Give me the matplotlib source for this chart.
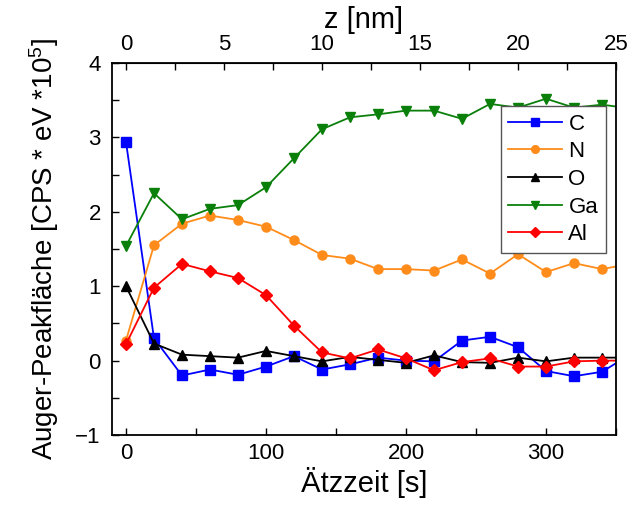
import numpy as np
import matplotlib
matplotlib.use("Agg")
from matplotlib import pyplot as plt
from matplotlib.ticker import MultipleLocator

plt.rcParams['font.family'] = ['Liberation Sans', 'DejaVu Sans']
plt.rcParams['mathtext.fontset'] = 'custom'
plt.rcParams['mathtext.rm'] = 'Liberation Sans'
plt.rcParams['mathtext.it'] = 'Liberation Sans'

# etch time [s]
t = [0, 20, 40, 60, 80, 100, 120, 140, 160, 180, 200, 220, 240, 260, 280, 300, 320, 340, 360]

C = [2.94, 0.30, -0.20, -0.12, -0.19, -0.08, 0.06, -0.12, -0.05, 0.04, 0.0, -0.01, 0.27, 0.32, 0.18, -0.14, -0.21, -0.15, 0.08]
N = [0.27, 1.55, 1.84, 1.95, 1.89, 1.80, 1.62, 1.42, 1.37, 1.23, 1.23, 1.21, 1.36, 1.17, 1.43, 1.19, 1.31, 1.23, 1.30]
O = [1.00, 0.23, 0.08, 0.06, 0.04, 0.13, 0.06, -0.01, 0.05, 0.01, -0.03, 0.07, -0.02, -0.03, 0.04, -0.01, 0.04, 0.04, 0.04]
Ga = [1.54, 2.25, 1.90, 2.04, 2.09, 2.33, 2.72, 3.11, 3.27, 3.31, 3.36, 3.36, 3.25, 3.45, 3.40, 3.52, 3.40, 3.44, 3.39]
Al = [0.22, 0.98, 1.30, 1.20, 1.11, 0.88, 0.47, 0.11, 0.03, 0.15, 0.03, -0.13, -0.02, 0.03, -0.08, -0.08, -0.01, 0.0, 0.0]

series = [('C', C, '#0000FF', 's'),
          ('N', N, '#FF8C1A', 'o'),
          ('O', O, '#000000', '^'),
          ('Ga', Ga, '#0A800A', 'v'),
          ('Al', Al, '#FF0000', 'D')]

fig = plt.figure(figsize=(6.27, 5.11), dpi=100)
ax = fig.add_axes([0.1786, 0.1487, 0.8039, 0.728])

for name, vals, col, mk in series:
    ax.plot(t, vals, color=col, marker=mk, markersize=6.5 if mk != 'D' else 6,
            linewidth=1.3, label=name)

ax.set_xlim(-10, 350)
ax.set_ylim(-1, 4)
ax.xaxis.set_major_locator(MultipleLocator(100))
ax.xaxis.set_minor_locator(MultipleLocator(50))
ax.yaxis.set_major_locator(MultipleLocator(1))
ax.yaxis.set_minor_locator(MultipleLocator(0.5))
ax.tick_params(which='both', direction='in', labelsize=16, width=1, length=5)
ax.tick_params(axis='x', pad=6)
ax.tick_params(axis='y', pad=8)
ax.set_xlabel('Ätzzeit [s]', fontsize=21, labelpad=2)
ax.set_ylabel('Auger-Peakfläche [CPS * eV *10$^5$]', fontsize=20, labelpad=10)
for s in ax.spines.values():
    s.set_linewidth(1.3)

# top axis: depth
top = ax.secondary_xaxis('top', functions=(lambda x: x / 14.0, lambda z: z * 14.0))
top.xaxis.set_major_locator(MultipleLocator(5))
top.xaxis.set_minor_locator(MultipleLocator(2.5))
top.tick_params(which='both', direction='in', labelsize=16, length=5, width=1, pad=6)
top.set_xlabel('z [nm]', fontsize=21, labelpad=4)

leg = ax.legend(loc='upper right', bbox_to_anchor=(0.98, 0.885), fontsize=16,
                handlelength=2.4, handletextpad=0.3, fancybox=False, framealpha=1,
                edgecolor='#555555', borderpad=0.35, labelspacing=0.3,
                borderaxespad=0, markerscale=0.85)
leg.get_frame().set_linewidth(1)

plt.savefig('out.png', dpi=100)
